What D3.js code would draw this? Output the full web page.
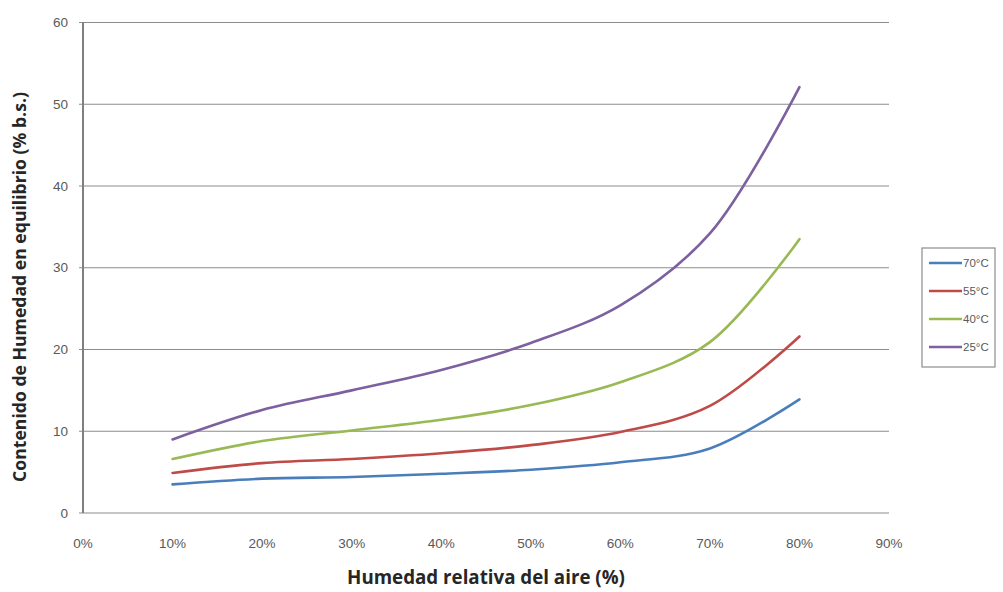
<!DOCTYPE html>
<html><head><meta charset="utf-8">
<script src="https://cdn.jsdelivr.net/npm/d3@7"></script>
<style>body{margin:0;background:#fff;} svg{display:block;}</style>
</head><body>
<svg id="chart" width="1003" height="592"></svg>
<script>
const humidity = [0.10,0.20,0.30,0.40,0.50,0.60,0.70,0.80];
const seriesNames = ["70°C","55°C","40°C","25°C"];
const s70 = [3.5,4.2,4.4,4.8,5.3,6.2,7.9,13.9];
const s55 = [4.9,6.1,6.6,7.3,8.3,9.9,13.1,21.6];
const s40 = [6.6,8.8,10.1,11.4,13.2,16.0,20.9,33.5];
const s25 = [9.0,12.6,15.0,17.5,20.8,25.4,34.2,52.1];
const seriesColors = ["#4A7EBB","#BE4B48","#98B954","#7D60A0"];
const xTicks = [0,0.1,0.2,0.3,0.4,0.5,0.6,0.7,0.8,0.9];
const yTicks = [0,10,20,30,40,50,60];

const values = [s70,s55,s40,s25];
const svg = d3.select("#chart");
const m = {left:83, right:889, top:22.5, bottom:513};
const x = d3.scaleLinear().domain([0,0.9]).range([m.left,m.right]);
const y = d3.scaleLinear().domain([0,60]).range([m.bottom,m.top]);

// gridlines
svg.append("g").selectAll("line").data(yTicks).join("line")
  .attr("x1",m.left-4).attr("x2",m.right)
  .attr("y1",d=>y(d)).attr("y2",d=>y(d))
  .attr("stroke","#8c8c8c").attr("stroke-width",1.2);
// y axis line
svg.append("line").attr("x1",m.left).attr("x2",m.left).attr("y1",m.top).attr("y2",m.bottom)
  .attr("stroke","#7f7f7f").attr("stroke-width",2);

const font = "'Liberation Sans', Arial, sans-serif";
svg.append("g").selectAll("text").data(yTicks).join("text")
  .attr("x",m.left-15).attr("y",d=>y(d)).attr("dy","0.35em")
  .attr("text-anchor","end").attr("font-family",font).attr("font-size",13.5)
  .attr("fill","#595959").text(d=>d);
svg.append("g").selectAll("text").data(xTicks).join("text")
  .attr("x",d=>x(d)).attr("y",548).attr("text-anchor","middle")
  .attr("font-family",font).attr("font-size",13.5).attr("fill","#595959")
  .text(d=>d3.format(".0%")(d));

// axis titles (font size fitted to the reference text extents)
const titleFont = "'Open Sans', Lato, sans-serif";
const xt = svg.append("text").attr("x",486).attr("y",584).attr("text-anchor","middle")
  .attr("font-family",titleFont).attr("font-weight","bold").attr("font-size",18)
  .attr("fill","#262626").text("Humedad relativa del aire (%)");
const yt = svg.append("text").attr("transform","translate(26,287) rotate(-90)").attr("text-anchor","middle")
  .attr("font-family",titleFont).attr("font-weight","bold").attr("font-size",18)
  .attr("fill","#262626").text("Contenido de Humedad en equilibrio (% b.s.)");
xt.attr("font-size",18*278/xt.node().getComputedTextLength());
yt.attr("font-size",18*390/yt.node().getComputedTextLength());

// lines
const line = d3.line().x((d,i)=>x(humidity[i])).y(d=>y(d)).curve(d3.curveCatmullRom.alpha(0.5));
svg.append("g").selectAll("path").data(values).join("path")
  .attr("d",d=>line(d)).attr("fill","none")
  .attr("stroke",(d,i)=>seriesColors[i]).attr("stroke-width",2.6)
  .attr("stroke-linecap","round");

// legend
const lg = svg.append("g");
lg.append("rect").attr("x",922).attr("y",248).attr("width",73).attr("height",119)
  .attr("fill","#fff").attr("stroke","#8c8c8c").attr("stroke-width",1.2);
const rowY = [263,291,319,347];
seriesNames.forEach((n,i)=>{
  lg.append("line").attr("x1",929).attr("x2",962).attr("y1",rowY[i]).attr("y2",rowY[i])
    .attr("stroke",seriesColors[i]).attr("stroke-width",2.6);
  lg.append("text").attr("x",963).attr("y",rowY[i]).attr("dy","0.35em")
    .attr("font-family",font).attr("font-size",11.5).attr("fill","#595959").text(n);
});
</script>
</body></html>
